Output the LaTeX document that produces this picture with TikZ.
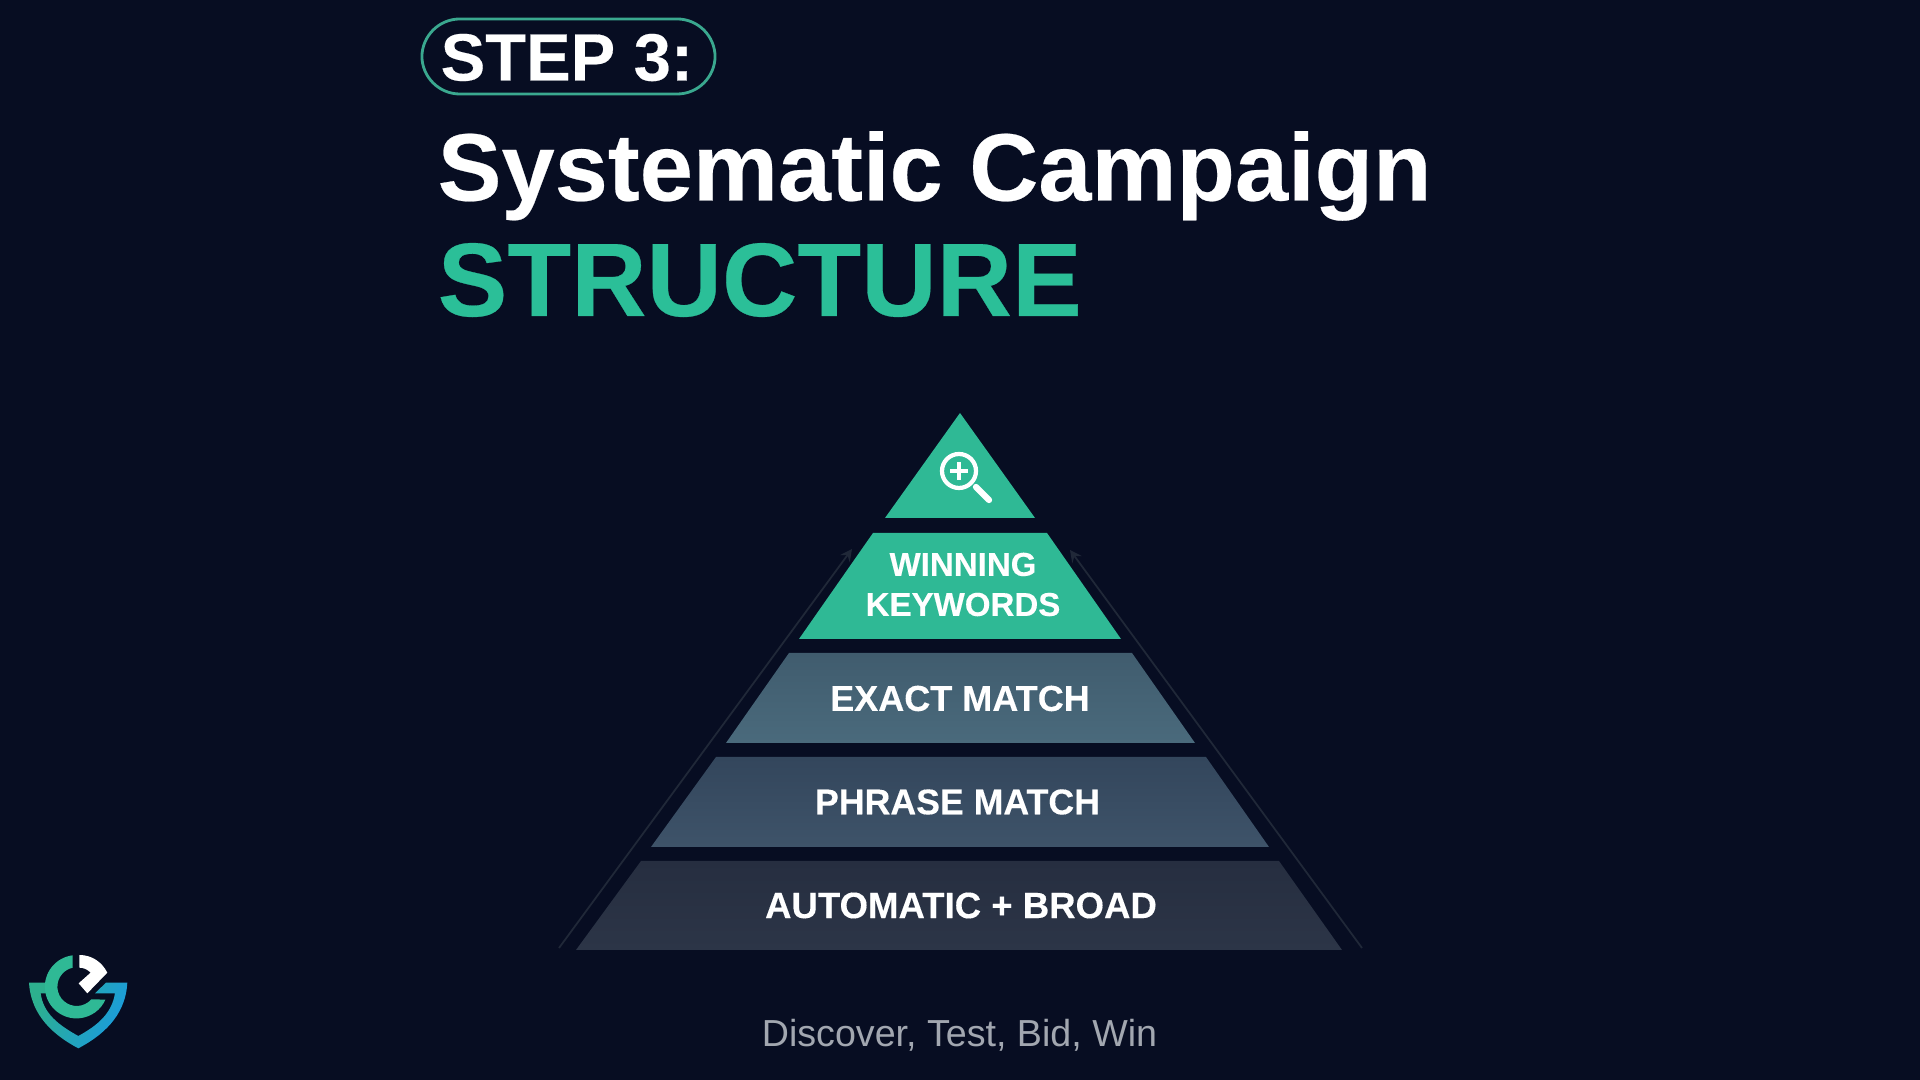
\documentclass[tikz,border=0pt]{standalone}
\usepackage{fontspec}
\setmainfont[BoldFeatures={FakeBold=0.25}]{Liberation Sans}
\definecolor{nightbg}{HTML}{070D22}
\definecolor{tealgreen}{HTML}{2FB995}
\definecolor{headgreen}{HTML}{2BBF98}
\definecolor{pillline}{HTML}{3AA88F}
\definecolor{arrowgrey}{HTML}{202838}
\definecolor{captiongrey}{HTML}{A2A7B0}
\definecolor{logoblue}{HTML}{1A9BE0}
\definecolor{exacttop}{HTML}{405C6E}
\definecolor{exactlow}{HTML}{4A6A7C}
\definecolor{phrasetop}{HTML}{33465C}
\definecolor{phraselow}{HTML}{3E5369}
\definecolor{broadtop}{HTML}{262E40}
\definecolor{broadlow}{HTML}{2C3547}
\tikzset{
  tierlabel/.style={white,inner sep=0,font=\bfseries\fontsize{10.4}{11.6}\selectfont,align=center},
  headline/.style={inner sep=0,anchor=base west,font=\bfseries\fontsize{27.2}{30}\selectfont},
  riseline/.style={arrowgrey,line width=0.5pt,->,>=stealth}
}
\begin{document}
\begin{tikzpicture}[x=0.01cm,y=-0.01cm]
\fill[nightbg] (0,0) rectangle (1920,1080);
\useasboundingbox (0,0) rectangle (1920,1080);
% heading
\node[draw=pillline,line width=0.8pt,rounded corners=0.38cm,minimum width=2.93cm,minimum height=0.75cm] (pill) at (568.5,56.5) {};
\node[headline,white,font=\bfseries\fontsize{19}{20}\selectfont] (stepno) at (440,80.5) {STEP 3:};
\node[headline,white] (title) at (437,200.5) {Systematic Campaign};
\node[headline,headgreen,font=\bfseries\fontsize{29.7}{32}\selectfont] (structure) at (437,316) {STRUCTURE};
% side arrows
\coordinate (leftfoot) at (559,948);
\coordinate (lefttip) at (852,549);
\coordinate (rightfoot) at (1362,948);
\coordinate (righttip) at (1070,550);
\draw[riseline] (leftfoot) -- (lefttip);
\draw[riseline] (rightfoot) -- (righttip);
% pyramid
\fill[tealgreen] (960,413) -- (1035,518) -- (885,518) -- cycle;
\fill[tealgreen] (873,533) -- (1047,533) -- (1121,639) -- (799,639) -- cycle;
\shade[top color=exacttop,bottom color=exactlow] (789,653) -- (1132,653) -- (1195,743) -- (726,743) -- cycle;
\shade[top color=phrasetop,bottom color=phraselow] (716,757) -- (1206,757) -- (1269,847) -- (651,847) -- cycle;
\shade[top color=broadtop,bottom color=broadlow] (641,861) -- (1279,861) -- (1342,950) -- (576,950) -- cycle;
\node[tierlabel,font=\bfseries\fontsize{9.4}{11.4}\selectfont] (winning) at (963,584.5) {WINNING\\KEYWORDS};
\node[tierlabel,font=\bfseries\fontsize{10.25}{11.6}\selectfont] (exact) at (960,698.5) {EXACT MATCH};
\node[tierlabel,font=\bfseries\fontsize{10.15}{11.6}\selectfont] (phrase) at (957.5,802) {PHRASE MATCH};
\node[tierlabel] (broad) at (961,905.5) {AUTOMATIC + BROAD};
% magnifier
\draw[white,line width=1.2pt] (959,471) circle (17);
\draw[white,line width=1pt] (959,462) -- (959,480) (950,471) -- (968,471);
\draw[white,line width=1.8pt,line cap=round] (976,487) -- (989,500);
\node[captiongrey,inner sep=0,font=\fontsize{10.7}{12}\selectfont] (caption) at (959.5,1035.5) {Discover, Test, Bid, Win};
% logo
\begin{scope}[shift={(0,930)},scale=0.3333]
\shade[left color=tealgreen!95!black,right color=logoblue,shading angle=65] (87,158) -- (145,158) -- (145,190) -- (122,190)
  .. controls (130,250) and (175,285) .. (235,318)
  .. controls (295,285) and (335,250) .. (345,190) -- (285,190) -- (318,158) -- (382,158)
  .. controls (378,240) and (330,305) .. (235,355)
  .. controls (140,305) and (92,240) .. (87,158) -- cycle;
\fill[tealgreen] (218,76) arc (-97:-336:95) -- (274,208) arc (-319:-102:58) -- cycle;
\fill[white] (238,75) .. controls (275,75) and (305,95) .. (322,128) -- (262,190) -- (236,160) -- (272,128)
  .. controls (262,118) and (250,113) .. (238,113) -- cycle;
\end{scope}
\end{tikzpicture}
\end{document}
